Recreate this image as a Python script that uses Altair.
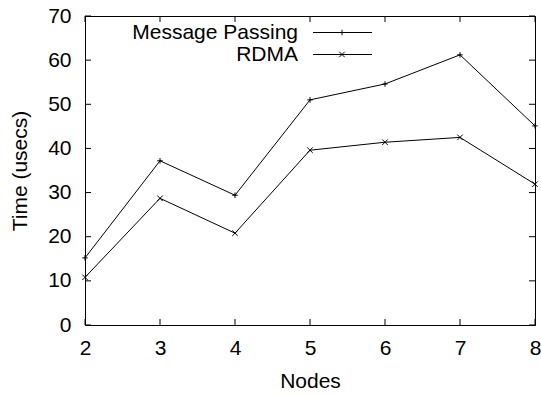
import altair as alt
import pandas as pd

nodes = [2, 3, 4, 5, 6, 7, 8]
series_names = ["Message Passing", "RDMA"]
mp_time = [15.2, 37.2, 29.4, 51.0, 54.6, 61.2, 45.1]
rdma_time = [10.8, 28.7, 20.8, 39.6, 41.4, 42.5, 31.9]
x_ticks = [2, 3, 4, 5, 6, 7, 8]
y_ticks = [0, 10, 20, 30, 40, 50, 60, 70]

W, H = 450, 309
FONT = "Liberation Sans"
FS = 21

PLUS = "M-1,0L1,0M0,-1L0,1"
CROSS = "M-1,-1L1,1M-1,1L1,-1"
shapes = [PLUS, CROSS]

df = pd.DataFrame({
    "Nodes": nodes * 2,
    "Time": mp_time + rdma_time,
    "Series": [series_names[0]] * len(nodes) + [series_names[1]] * len(nodes),
})
xt = pd.DataFrame({"v": x_ticks})
yt = pd.DataFrame({"v": y_ticks})

xs = alt.Scale(domain=[2, 8], nice=False, zero=False)
ys = alt.Scale(domain=[0, 70], nice=False)

x_axis = alt.Axis(
    values=x_ticks, format="d", ticks=False, grid=False, labelPadding=12, title="Nodes",
    titlePadding=12, domainColor="black", labelFlush=False)
y_axis = alt.Axis(
    values=y_ticks, format="d", ticks=False, grid=False, labelPadding=14, title="Time (usecs)",
    titleX=-65, titleY=H / 2, titleBaseline="middle", titleAlign="center",
    domainColor="black")

lines = alt.Chart(df).mark_line(color="black", strokeWidth=1).encode(
    x=alt.X("Nodes:Q", scale=xs, axis=x_axis), y=alt.Y("Time:Q", scale=ys, axis=y_axis),
    detail="Series:N")
points = alt.Chart(df).mark_point(filled=False, color="black", strokeWidth=1, size=30, opacity=1).encode(
    x=alt.X("Nodes:Q", scale=xs, axis=x_axis), y=alt.Y("Time:Q", scale=ys, axis=y_axis),
    shape=alt.Shape("Series:N", scale=alt.Scale(domain=series_names, range=shapes), legend=None))

tick_len = 6
bt = alt.Chart(xt).mark_rule(color="black", strokeWidth=1).encode(
    x=alt.X("v:Q", scale=xs, axis=x_axis), y=alt.value(H), y2=alt.value(H - tick_len))
tt = alt.Chart(xt).mark_rule(color="black", strokeWidth=1).encode(
    x=alt.X("v:Q", scale=xs, axis=x_axis), y=alt.value(0), y2=alt.value(tick_len))
lt = alt.Chart(yt).mark_rule(color="black", strokeWidth=1).encode(
    y=alt.Y("v:Q", scale=ys, axis=y_axis), x=alt.value(0), x2=alt.value(tick_len))
rt = alt.Chart(yt).mark_rule(color="black", strokeWidth=1).encode(
    y=alt.Y("v:Q", scale=ys, axis=y_axis), x=alt.value(W), x2=alt.value(W - tick_len))

layers = [lines, points, bt, tt, lt, rt]

leg_df = pd.DataFrame({"Series": series_names})
for i, name in enumerate(series_names):
    yy = 16.5 + 22 * i
    sub = alt.Chart(leg_df).transform_filter(alt.datum.Series == name)
    layers.append(sub.mark_text(align="right", baseline="middle", font=FONT, fontSize=21, color="black").encode(
        text="Series:N", x=alt.value(213), y=alt.value(yy)))
    layers.append(sub.mark_rule(color="black", strokeWidth=1).encode(
        x=alt.value(228), x2=alt.value(287), y=alt.value(yy)))
    layers.append(sub.mark_point(filled=False, color="black", strokeWidth=1, size=30, opacity=1, shape=shapes[i]).encode(
        x=alt.value(257), y=alt.value(yy)))

chart = alt.layer(*layers).properties(
    width=W, height=H,
    autosize=alt.AutoSizeParams(type="none"),
    padding={"left": 85, "top": 16, "right": 6, "bottom": 71},
).configure(background="white").configure_view(stroke="black", strokeWidth=1).configure_axis(
    labelFont=FONT, labelFontSize=FS, titleFont=FONT, titleFontSize=FS,
    labelColor="black", titleColor="black", titleFontWeight="normal"
)

chart.save("out.html", embed_options={"renderer": "svg", "actions": False})
